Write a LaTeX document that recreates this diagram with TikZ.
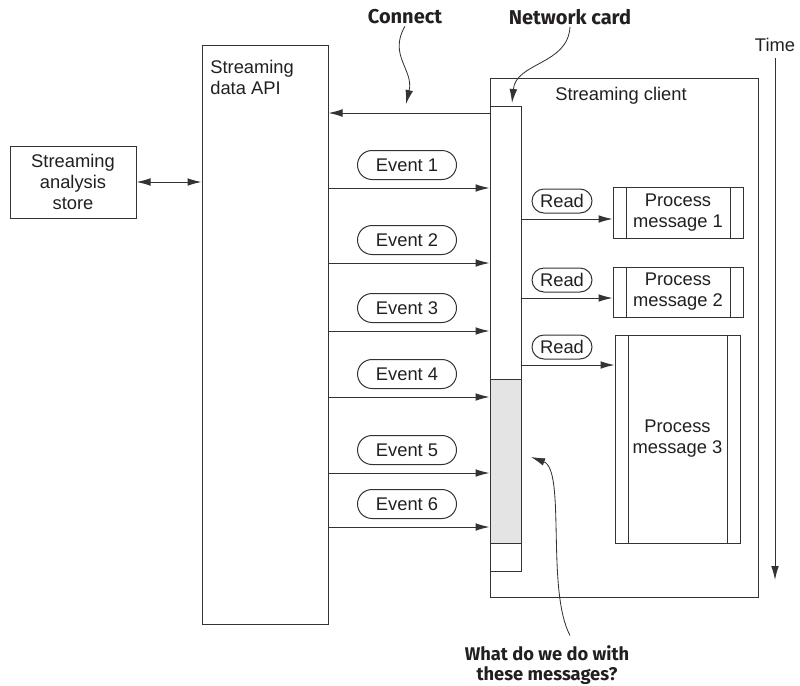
\documentclass[tikz,border=0pt]{standalone}
\usepackage{fontspec}
\setmainfont{Liberation Sans}
\newfontfamily\calloutfont{Fira Sans}
\usepackage{tikz}
\usetikzlibrary{shapes.misc, arrows.meta, positioning, calc}
\definecolor{linegray}{HTML}{333333}
\definecolor{textgray}{HTML}{231F20}
\definecolor{bufgray}{HTML}{E4E4E4}
\tikzstyle{arrow} = [
  -{Latex[length=8.4pt, width=4.6pt]}, line width=0.6pt, color=linegray
]
\tikzstyle{pointer} = [
  -{Latex[length=8.4pt, width=4.6pt]}, line width=0.5pt, color=linegray
]

\begin{document}
\begin{tikzpicture}[
  x=0.6pt, y=-0.6pt,
  every node/.style={font=\fontsize{11}{12.6}\selectfont, text=textgray},
  box/.style={rectangle, draw=linegray, line width=0.6pt, fill=white,
              inner sep=0pt, align=center},
  pill/.style={rounded rectangle, draw=linegray, line width=0.6pt,
               minimum width=59.4pt, minimum height=17.4pt, inner sep=0pt},
  readpill/.style={pill, minimum width=36pt, minimum height=14.4pt},
  procbox/.style={box, minimum width=78pt,
    path picture={
      \draw[linegray, line width=0.6pt]
        ([xshift=7.8pt]path picture bounding box.north west) --
        ([xshift=7.8pt]path picture bounding box.south west)
        ([xshift=-7.8pt]path picture bounding box.north east) --
        ([xshift=-7.8pt]path picture bounding box.south east);}},
  callout/.style={font=\calloutfont\bfseries\fontsize{12}{12}\selectfont,
                  align=center, inner sep=1pt},
]
  \useasboundingbox (0,0) rectangle (800,685);

  \node[box, minimum width=75.6pt, minimum height=43.2pt]
    (store)  at (73,182)   {Streaming\\analysis\\store};
  \node[box, minimum width=75.6pt, minimum height=347.4pt]
    (api)    at (265,334.5) {};
  \node[align=left, anchor=north west, inner sep=0pt]
    (apilbl) at (210,60)   {Streaming\\data API};
  \node[box, minimum width=160.8pt, minimum height=311.4pt]
    (client) at (624,337.5) {};
  \node
    (clientlbl) at (621,96) {Streaming client};
  \node[box, minimum width=18.6pt, minimum height=279pt]
    (card)   at (505.5,338.5) {};
  \node[box, fill=bufgray, minimum width=18.6pt, minimum height=98.4pt]
    (buffer) at (505.5,461) {};

  \node[procbox, minimum height=30.6pt]
    (proc1)  at (678,213)  {Process\\message 1};
  \node[procbox, minimum height=30pt]
    (proc2)  at (678,292)  {Process\\message 2};
  \node[procbox, minimum width=75pt, minimum height=124.8pt]
    (proc3)  at (677.5,439) {Process\\message 3};

  \node (time) at (775,45) {Time};
  \coordinate (timeend) at (775,580);

  \node[callout] (connectlbl) at (405,17)  {Connect};
  \node[callout] (netlbl)     at (570,17)  {Network card};
  \node[callout, font=\calloutfont\bfseries\fontsize{11}{12}\selectfont]
    (whatlbl) at (547,665) {What do we do with\\these messages?};

  \draw[arrow, {Latex[length=8.4pt, width=4.6pt]}-{Latex[length=8.4pt, width=4.6pt]}]
    (store.east) -- (api.west |- store.east);
  \draw[arrow] (card.west |- 0,113) -- (api.east |- 0,113);

  \foreach \y/\n in {188/1, 263/2, 331/3, 397/4, 473/5, 527/6} {
    \draw[arrow] (api.east |- 0,\y) -- (card.west |- 0,\y);
    \node[pill] (ev\n) at (407,\y-23) {Event \n};
  }

  \foreach \y/\n in {219/1, 298/2, 365/3} {
    \draw[arrow] (card.east |- 0,\y) -- (proc\n.west |- 0,\y);
    \node[readpill] (read\n) at (562,\y-18) {Read};
  }

  \draw[arrow] (time) -- (timeend);

  \draw[pointer] (connectlbl.south) .. controls (388,55) and (414,70) .. (406,104);
  \draw[pointer] (netlbl.south) .. controls (568,65) and (516,62) .. (512,103);
  \draw[pointer] (whatlbl.north) ++(23,-8) .. controls (546,590) and (566,470) .. (531,457);
\end{tikzpicture}
\end{document}
